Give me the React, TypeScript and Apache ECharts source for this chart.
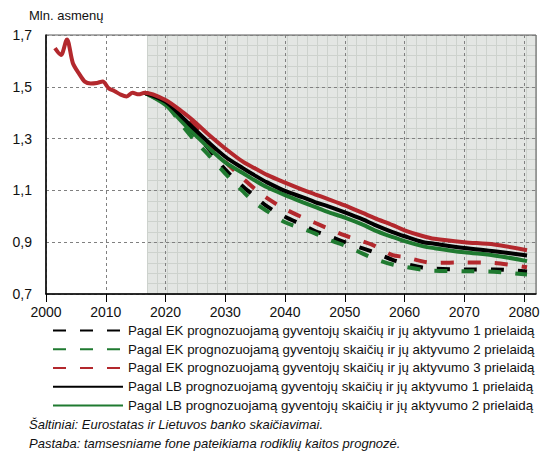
import { useEffect, useRef } from "react";
import * as echarts from "echarts";

const FONT = "'Liberation Sans', Arial, sans-serif";

// Historical data (annual, plotted at mid-year)
const histYears = [2001, 2002, 2003, 2004, 2005, 2006, 2007, 2008, 2009, 2010, 2011, 2012, 2013, 2014, 2015, 2016];
const histValues = [1.649, 1.623, 1.683, 1.591, 1.552, 1.52, 1.513, 1.515, 1.52, 1.494, 1.483, 1.47, 1.463, 1.477, 1.471, 1.477];

// Projection points (x positions in years)
const projYears = [2016.5, 2020, 2023, 2025, 2027, 2030, 2033, 2035, 2037, 2040, 2043, 2045, 2047, 2050, 2053, 2055, 2058, 2060, 2063, 2065, 2070, 2075, 2080.5];
const ek1 = [1.477, 1.44, 1.365, 1.312, 1.267, 1.18, 1.114, 1.076, 1.038, 0.998, 0.966, 0.943, 0.927, 0.9, 0.876, 0.86, 0.832, 0.818, 0.802, 0.798, 0.795, 0.795, 0.787];
const ek2 = [1.477, 1.433, 1.345, 1.29, 1.242, 1.165, 1.095, 1.052, 1.02, 0.977, 0.952, 0.934, 0.912, 0.887, 0.856, 0.836, 0.814, 0.805, 0.794, 0.79, 0.788, 0.786, 0.775];
const ek3 = [1.477, 1.447, 1.385, 1.345, 1.28, 1.21, 1.145, 1.105, 1.07, 1.028, 0.995, 0.975, 0.955, 0.926, 0.903, 0.886, 0.85, 0.843, 0.826, 0.82, 0.822, 0.82, 0.803];
const lb1 = [1.477, 1.443, 1.378, 1.333, 1.29, 1.23, 1.185, 1.157, 1.131, 1.098, 1.073, 1.055, 1.04, 1.015, 0.988, 0.967, 0.939, 0.923, 0.901, 0.894, 0.878, 0.865, 0.849];
const lb2 = [1.477, 1.43, 1.359, 1.314, 1.269, 1.208, 1.166, 1.138, 1.112, 1.082, 1.054, 1.036, 1.018, 0.995, 0.968, 0.946, 0.92, 0.904, 0.885, 0.877, 0.861, 0.849, 0.827];
const lb3 = [1.477, 1.449, 1.4, 1.362, 1.32, 1.262, 1.21, 1.185, 1.16, 1.13, 1.102, 1.085, 1.068, 1.042, 1.013, 0.993, 0.966, 0.946, 0.924, 0.913, 0.9, 0.891, 0.869];

const xTicks = [2000, 2010, 2020, 2030, 2040, 2050, 2060, 2070, 2080];
const yTicks = [0.7, 0.9, 1.1, 1.3, 1.5, 1.7];
const forecastStart = 2017;

const legendNames = [
  "Pagal EK prognozuojamą gyventojų skaičių ir jų aktyvumo 1 prielaidą",
  "Pagal EK prognozuojamą gyventojų skaičių ir jų aktyvumo 2 prielaidą",
  "Pagal EK prognozuojamą gyventojų skaičių ir jų aktyvumo 3 prielaidą",
  "Pagal LB prognozuojamą gyventojų skaičių ir jų aktyvumo 1 prielaidą",
  "Pagal LB prognozuojamą gyventojų skaičių ir jų aktyvumo 2 prielaidą",
];
const yTitle = "Mln. asmenų";
const sourceText = "Šaltiniai: Eurostatas ir Lietuvos banko skaičiavimai.";
const noteText = "Pastaba: tamsesniame fone pateikiama rodiklių kaitos prognozė.";

const BLACK = "#000000";
const GREEN = "#1f7a30";
const RED = "#b3282d";

export default function App() {
  const ref = useRef<HTMLDivElement>(null);
  useEffect(() => {
    if (!ref.current) return;
    const chart = echarts.init(ref.current, null, { renderer: "svg" });
    const W = 551;
    const gLeft = 46, gRight = 15, gTop = 35, gBottom = 161;
    const xMin = 2000, xMax = 2082;
    const plotW = W - gLeft - gRight;
    const shadeLeft = gLeft + ((forecastStart - xMin) / (xMax - xMin)) * plotW;

    const proj = (vals: number[]) => projYears.map((y, i) => [y, vals[i]]);
    const hist = histYears.map((y, i) => [y + 0.5, histValues[i]]);

    const dash = [13, 14];
    const mk = (name: string, data: number[][], color: string, dashed: boolean, z: number) => ({
      name,
      type: "line",
      xAxisIndex: 0,
      yAxisIndex: 0,
      data,
      smooth: 0.3,
      symbol: "none",
      showSymbol: false,
      z,
      lineStyle: { color, width: 4, type: dashed ? dash : "solid", cap: "butt" },
      itemStyle: { color },
      emphasis: { disabled: true },
    });

    chart.setOption({
      animation: false,
      textStyle: { fontFamily: FONT },
      grid: [
        {
          left: gLeft, right: gRight, top: gTop, bottom: gBottom,
          show: true, backgroundColor: "transparent", borderColor: "#5a5a5a", borderWidth: 1, z: 1,
        },
        {
          left: shadeLeft, right: gRight, top: gTop, bottom: gBottom,
          show: true, backgroundColor: "#e3e6e3", borderWidth: 0, z: 0,
        },
      ],
      xAxis: [
        {
          type: "value", gridIndex: 0, min: xMin, max: xMax, interval: 10, z: 2,
          axisLine: { show: true, lineStyle: { color: "#000", width: 1.5 } },
          axisTick: { show: true, length: 8, lineStyle: { color: "#000", width: 1 }, customValues: xTicks },
          axisLabel: {
            customValues: xTicks, color: "#111", fontSize: 14, fontFamily: FONT, margin: 11,
            formatter: (v: number) => String(Math.round(v)),
          },
          splitLine: { show: true, lineStyle: { color: "#808080", type: [3, 3], width: 1 } },
        },
        {
          type: "value", gridIndex: 1, min: forecastStart, max: xMax, interval: 10 / 6, z: 0,
          axisLine: { show: false }, axisTick: { show: false }, axisLabel: { show: false },
          splitLine: { show: true, lineStyle: { color: "#cdd2cd", width: 1 } },
        },
      ],
      yAxis: [
        {
          type: "value", gridIndex: 0, min: 0.7, max: 1.7, interval: 0.2, z: 2,
          axisLine: { show: true, lineStyle: { color: "#000", width: 1.5 } },
          axisTick: { show: false },
          axisLabel: {
            customValues: yTicks,
            color: "#111", fontSize: 14, fontFamily: FONT, margin: 14,
            formatter: (v: number) => v.toFixed(1).replace(".", ","),
          },
          splitLine: { show: true, lineStyle: { color: "#808080", type: [3, 3], width: 1 } },
        },
        {
          type: "value", gridIndex: 1, min: 0.7, max: 1.7, interval: 0.04, z: 0,
          axisLine: { show: false }, axisTick: { show: false }, axisLabel: { show: false },
          splitLine: { show: true, lineStyle: { color: "#cdd2cd", width: 1 } },
        },
      ],
      legend: {
        data: legendNames,
        orient: "vertical",
        left: 52,
        top: 321,
        padding: 0,
        itemWidth: 70,
        itemHeight: 12,
        itemGap: 0,
        selectedMode: false,
        itemStyle: { opacity: 0, borderWidth: 0 },
        textStyle: { fontFamily: FONT, fontSize: 13.3, color: "#111", lineHeight: 18.75 },
      },
      graphic: [
        { type: "text", left: 29, top: 9, style: { text: yTitle, fontFamily: FONT, fontSize: 13, fill: "#111" } },
        { type: "text", left: 29, top: 418, style: { text: sourceText, fontFamily: FONT, fontSize: 13, fontStyle: "italic", fill: "#111" } },
        { type: "text", left: 29, top: 437, style: { text: noteText, fontFamily: FONT, fontSize: 13, fontStyle: "italic", fill: "#111" } },
      ],
      series: [
        mk(legendNames[0], proj(ek1), BLACK, true, 3),
        mk(legendNames[1], proj(ek2), GREEN, true, 3),
        mk(legendNames[2], proj(ek3), RED, true, 3),
        mk(legendNames[4], proj(lb2), GREEN, false, 4),
        mk(legendNames[3], proj(lb1), BLACK, false, 4),
        mk("Faktiniai ir LB 3", [...hist, ...proj(lb3).slice(1)], RED, false, 5),
      ],
    });
    return () => chart.dispose();
  }, []);
  return <div ref={ref} style={{ position: "absolute", left: 0, top: 0, width: 551, height: 455 }} />;
}
